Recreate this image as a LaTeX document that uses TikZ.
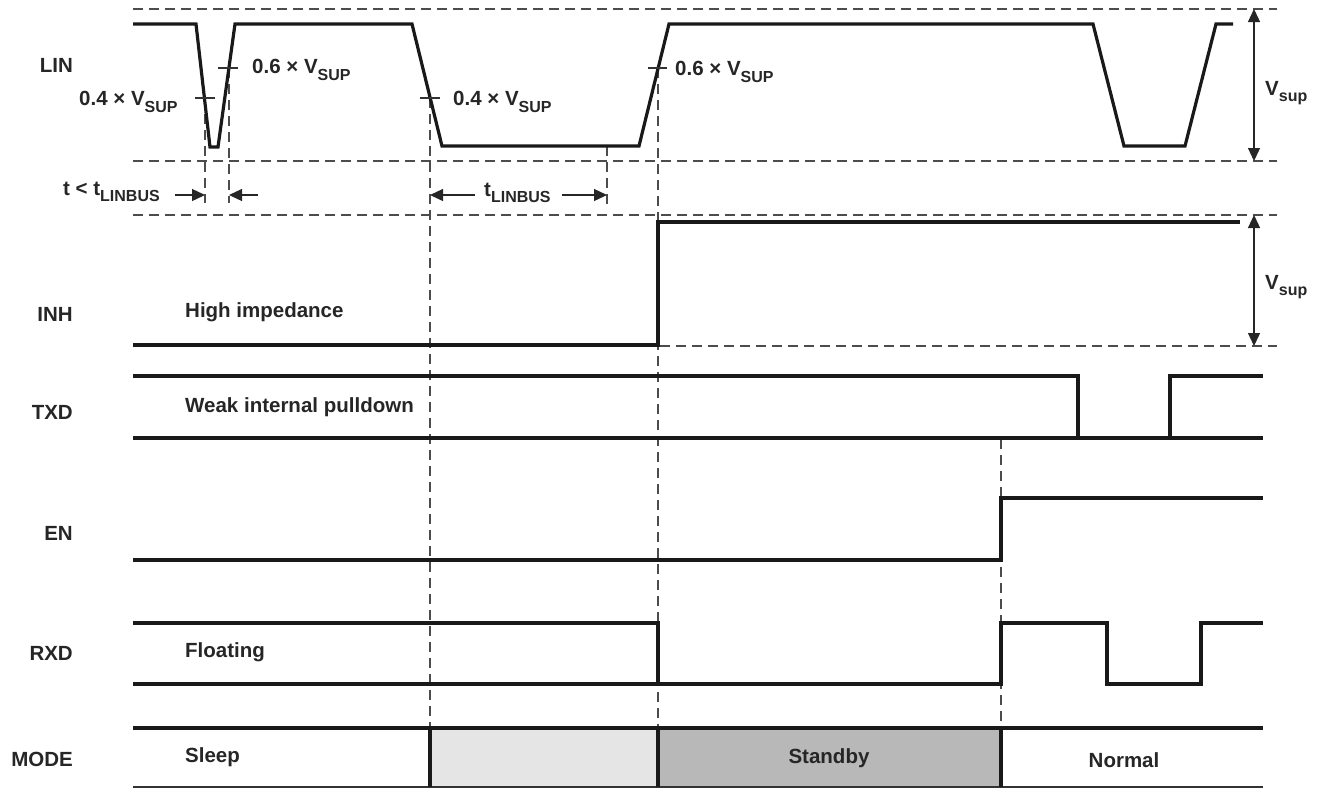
\documentclass[tikz,border=0pt]{standalone}
\usepackage{fontspec}
\setmainfont{Liberation Sans}
\usetikzlibrary{arrows.meta}
\newcommand{\sub}[1]{\raisebox{-0.32em}{\fontsize{16}{16}\selectfont #1}}
\begin{document}
\begin{tikzpicture}[x=1pt,y=-1pt,
  wave/.style={line width=3.2pt,line join=miter,color=black!90},
  guide/.style={line width=1.1pt,black!70,dash pattern=on 10pt off 6pt},
  tick/.style={line width=1.2pt,black!80},
  lbl/.style={font=\fontsize{20.5}{22}\selectfont\bfseries,inner sep=0pt,text=black!85},
  dim/.style={line width=1.3pt,black!85,-{Triangle[length=13pt,width=12pt]}},
  dimb/.style={line width=1.3pt,black!85,{Triangle[length=13pt,width=12pt]}-{Triangle[length=13pt,width=12pt]}}]
\useasboundingbox (0,0) rectangle (1325,788);
% MODE fills
\fill[black!10] (430,728) rectangle (658,787);
\fill[black!28] (658,728) rectangle (1001,787);
% horizontal guides
\draw[guide] (133,9) -- (1277,9);
\draw[guide] (133,161) -- (1277,161);
\draw[guide] (133,215) -- (1277,215);
\draw[guide] (660,346) -- (1277,346);
% vertical guides
\draw[guide] (205,98) -- (205,203);
\draw[guide] (229,68) -- (229,203);
\draw[guide] (430,98) -- (430,728);
\draw[guide] (658,68) -- (658,728);
\draw[guide] (607,146) -- (607,205);
\draw[guide] (1001,439) -- (1001,728);
% LIN
\draw[wave] (133,24) -- (196,24) -- (210,147) -- (218,147) -- (235,24) -- (412,24) -- (442,146) -- (639,146) -- (669,24) -- (1093,24) -- (1124,146) -- (1185,146) -- (1216,24) -- (1233,24);
% ticks
\draw[tick] (195,98) -- (215,98);
\draw[tick] (218,68) -- (238,68);
\draw[tick] (420,98) -- (440,98);
\draw[tick] (648,68) -- (667,68);
% INH
\draw[wave] (133,345) -- (658,345) -- (658,222) -- (1240,222);
% TXD
\draw[wave] (133,376) -- (1078,376) -- (1078,438);
\draw[wave] (133,438) -- (1263,438);
\draw[wave] (1170,438) -- (1170,376) -- (1263,376);
% EN
\draw[wave] (133,560) -- (1001,560) -- (1001,498) -- (1263,498);
% RXD
\draw[wave] (133,623) -- (658,623) -- (658,684);
\draw[wave] (133,684) -- (1001,684) -- (1001,623) -- (1107,623) -- (1107,684) -- (1201,684) -- (1201,623) -- (1263,623);
% MODE
\draw[wave] (133,728) -- (1263,728);
\draw[line width=1.2pt,black!80] (133,787) -- (1263,787);
\draw[wave] (430,728) -- (430,787);
\draw[wave] (658,728) -- (658,787);
\draw[wave] (1001,728) -- (1001,787);
% dimension arrows
\coordinate (a1) at (175,195); \coordinate (a1e) at (205,195);
\coordinate (a2) at (258,195); \coordinate (a2e) at (229,195);
\coordinate (b1) at (475,195); \coordinate (b1e) at (430,195);
\coordinate (b2) at (562,195); \coordinate (b2e) at (607,195);
\draw[dim] (a1) -- (a1e);
\draw[dim] (a2) -- (a2e);
\draw[dim] (b1) -- (b1e);
\draw[dim] (b2) -- (b2e);
\coordinate (v1t) at (1254,9); \coordinate (v1b) at (1254,161);
\coordinate (v2t) at (1254,215); \coordinate (v2b) at (1254,346);
\draw[dimb] (v1t) -- (v1b);
\draw[dimb] (v2t) -- (v2b);
% labels
\node[lbl,anchor=east] (lLIN) at (73,65) {LIN};
\node[lbl,anchor=east] (lINH) at (73,314) {INH};
\node[lbl,anchor=east] (lTXD) at (73,412) {TXD};
\node[lbl,anchor=east] (lEN) at (73,533) {EN};
\node[lbl,anchor=east] (lRXD) at (73,653) {RXD};
\node[lbl,anchor=east] (lMODE) at (73,759) {MODE};
\node[lbl,anchor=west] (thA) at (79,102) {0.4 × V\sub{SUP}};
\node[lbl,anchor=west] (thB) at (252,70) {0.6 × V\sub{SUP}};
\node[lbl,anchor=west] (thC) at (453,102) {0.4 × V\sub{SUP}};
\node[lbl,anchor=west] (thD) at (675,72) {0.6 × V\sub{SUP}};
\node[lbl,anchor=west] (tlt) at (63,192) {t < t\sub{LINBUS}};
\node[lbl,anchor=west] (tlb) at (484,193) {t\sub{LINBUS}};
\node[lbl,anchor=west] (vs1) at (1265,93) {V\sub{sup}};
\node[lbl,anchor=west] (vs2) at (1265,287) {V\sub{sup}};
\node[lbl,anchor=west] (hi) at (185,312) {High impedance};
\node[lbl,anchor=west] (wk) at (185,407) {Weak internal pulldown};
\node[lbl,anchor=west] (fl) at (185,652) {Floating};
\node[lbl,anchor=west] (sl) at (185,757) {Sleep};
\node[lbl] (sb) at (829,758) {Standby};
\node[lbl] (nm) at (1124,760) {Normal};
\end{tikzpicture}
\end{document}
